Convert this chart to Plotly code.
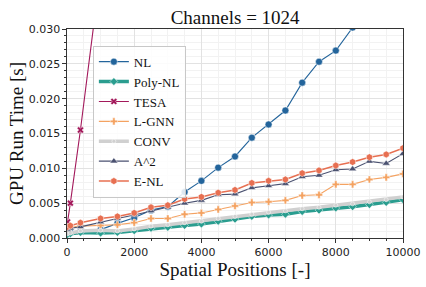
import plotly.graph_objects as go

X = [16, 100, 400, 1000, 1500, 2000, 2500, 3000, 3500, 4000, 4500, 5000,
     5500, 6000, 6500, 7000, 7500, 8000, 8500, 9000, 9500, 10000]

NL = [0.0007, 0.0008, 0.0009, 0.0012, 0.0021, 0.0029, 0.0040, 0.0045, 0.0066, 0.0082, 0.0101, 0.0117,
      0.0144, 0.0163, 0.0183, 0.0223, 0.0253, 0.0269, 0.0302, 0.0330, 0.0350, 0.0380]
POLY_NL = [0.0005, 0.0006, 0.0008, 0.0007, 0.0008, 0.00105, 0.0014, 0.00154, 0.0018, 0.0020, 0.0024, 0.0027,
           0.0031, 0.0033, 0.0034, 0.0038, 0.0040, 0.0043, 0.0045, 0.0048, 0.0051, 0.0055]
TESA = [0.0023, 0.0050, 0.0155, 0.0384]
L_GNN = [0.0013, 0.00154, 0.0017, 0.0018, 0.0019, 0.0022, 0.0028, 0.0028, 0.0034, 0.0036, 0.0041, 0.0046,
         0.0051, 0.0052, 0.0054, 0.0061, 0.0062, 0.0077, 0.0077, 0.0084, 0.0087, 0.0092]
CONV = [0.0006, 0.0007, 0.0010, 0.0011, 0.0010, 0.0013, 0.0017, 0.0019, 0.0022, 0.0024, 0.0028, 0.0031,
        0.0034, 0.0037, 0.0039, 0.0042, 0.0044, 0.0047, 0.0049, 0.0052, 0.0055, 0.0059]
A2 = [0.0012, 0.0014, 0.0016, 0.0023, 0.0028, 0.0033, 0.0039, 0.0044, 0.0050, 0.0054, 0.0062, 0.0063,
      0.0072, 0.0075, 0.0078, 0.0088, 0.0090, 0.0098, 0.0099, 0.0110, 0.0107, 0.0121]
E_NL = [0.0016, 0.00177, 0.0022, 0.0028, 0.0031, 0.0036, 0.0044, 0.0047, 0.0056, 0.0059, 0.0065, 0.0069,
        0.0079, 0.0082, 0.0084, 0.0093, 0.0097, 0.0104, 0.0109, 0.0116, 0.0120, 0.0129]

SERIF = "Liberation Serif"

fig = go.Figure()

def add(name, y, color, width, symbol, size, x=X):
    fig.add_trace(go.Scatter(
        x=x[:len(y)], y=y, name=name, mode="lines+markers",
        line=dict(color=color, width=width),
        marker=dict(symbol=symbol, size=size, color=color,
                    line=dict(color="white", width=0.5)),
    ))

add("NL", NL, "#23649b", 1.1, "circle", 7)
add("Poly-NL", POLY_NL, "#2a9d8f", 3.5, "diamond", 6)
add("TESA", TESA, "#a3195b", 1.1, "x", 6)
add("L-GNN", L_GNN, "#f4a261", 1.1, "cross", 6)
add("CONV", CONV, "#d0d0d0", 3.5, "circle", 4)
add("A^2", A2, "#4a5170", 1.1, "triangle-up", 7)
add("E-NL", E_NL, "#e76f51", 1.5, "hexagon", 7)

axis_common = dict(
    showline=True, linecolor="#333", linewidth=1.2, mirror=True,
    ticks="outside", ticklen=3.5, tickcolor="#333",
    showgrid=True, gridcolor="#e2e2e2", gridwidth=1,
    zeroline=False, automargin=False,
    tickfont=dict(family="DejaVu Sans", size=11, color="#222"),
)

fig.update_xaxes(
    range=[0, 10000], dtick=2000, tickformat="d",
    minor=dict(dtick=500, showgrid=True, gridcolor="#f2f2f2", ticks="outside", ticklen=2, tickcolor="#333"),
    title=dict(text="Spatial Positions [-]", font=dict(family=SERIF, size=19, color="#111"), standoff=0),
    **axis_common,
)
fig.update_yaxes(
    range=[0, 0.030], dtick=0.005, tickformat=".3f",
    minor=dict(dtick=0.001, showgrid=True, gridcolor="#f2f2f2", ticks="outside", ticklen=2, tickcolor="#333"),
    title=dict(text="GPU Run Time [s]", font=dict(family=SERIF, size=19, color="#111"), standoff=0),
    **axis_common,
)

fig.update_layout(
    width=426, height=287,
    margin=dict(l=67, r=23, t=29, b=49),
    paper_bgcolor="white", plot_bgcolor="white",
    title=dict(text="Channels = 1024", x=0.552, xanchor="center", y=0.94, yanchor="middle",
               font=dict(family=SERIF, size=19, color="#111")),
    legend=dict(
        x=0.077, y=0.92, xanchor="left", yanchor="top",
        bgcolor="rgba(255,255,255,0.85)", bordercolor="#c8c8c8", borderwidth=1,
        font=dict(family=SERIF, size=13, color="#111"),
        tracegroupgap=0, itemwidth=30,
    ),
    showlegend=True,
)

# Remove the page's default body margin so the 426x287 figure fills the window exactly.
fig.write_html("out.html", config={"displayModeBar": False},
               post_script="document.body.style.margin='0';")
